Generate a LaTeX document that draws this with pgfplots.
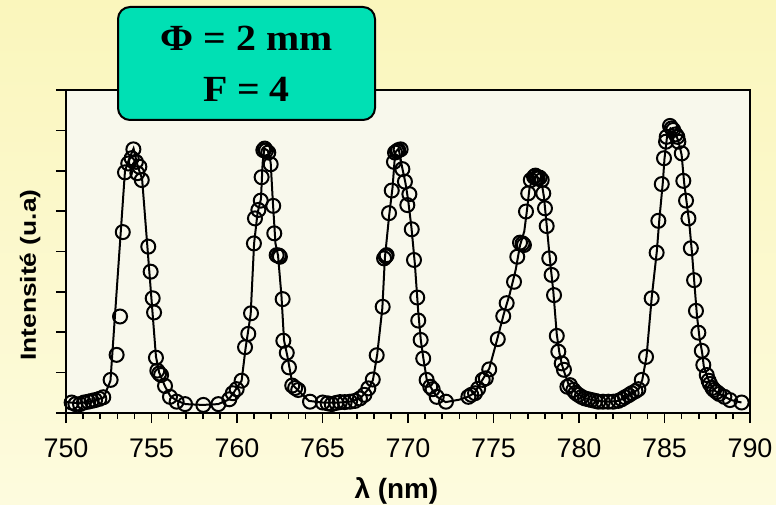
\documentclass[border=0pt]{standalone}
\usepackage{pgfplots}
\pgfplotsset{compat=1.18}
\usepackage{graphicx}
\usepackage{fontspec}
\setmainfont{Liberation Sans}
\newfontfamily\serifbf{Liberation Serif}
\definecolor{bgtop}{RGB}{250,246,188}
\definecolor{bgbot}{RGB}{253,251,222}
\definecolor{plotbg}{RGB}{248,248,236}
\definecolor{boxfill}{RGB}{0,224,180}

\pgfplotstableread{
x y
750.0 0.27
750.8 0.24
751.5 0.30
752.2 0.38
752.6 0.80
753.45 6.00
753.7 6.30
753.95 6.55
754.2 6.10
754.45 5.80
755.26 1.40
755.45 1.00
755.8 0.65
756.1 0.42
756.5 0.30
757.0 0.22
758.0 0.20
758.9 0.22
759.5 0.33
759.8 0.50
760.27 0.80
760.5 1.60
760.8 2.45
761.0 4.20
761.2 4.95
761.4 5.30
761.5 6.20
761.6 6.55
761.8 6.50
761.97 6.20
762.1 5.20
762.25 4.20
762.4 3.90
762.6 2.90
762.75 1.80
762.95 1.40
763.1 1.05
763.25 0.70
763.6 0.55
764.2 0.30
765.0 0.26
766.0 0.26
766.6 0.28
767.2 0.36
767.7 0.60
767.95 0.82
768.2 1.45
768.5 2.60
768.65 3.85
768.9 4.90
769.1 5.60
769.25 6.45
769.45 6.55
769.65 6.10
769.85 5.70
770.0 5.30
770.2 4.60
770.4 3.70
770.6 2.50
770.75 1.80
770.9 1.35
771.1 0.82
771.45 0.55
771.7 0.40
772.2 0.27
772.6 0.30
773.0 0.33
773.5 0.40
773.9 0.50
774.35 0.82
774.75 1.10
775.2 1.80
775.6 2.45
775.95 2.95
776.3 3.55
776.55 4.15
776.8 4.50
776.95 5.00
777.1 5.55
777.3 5.85
777.55 5.85
777.8 5.75
777.95 5.35
778.1 4.70
778.3 3.80
778.5 3.00
778.7 1.95
778.85 1.50
779.0 1.20
779.15 1.00
779.4 0.70
779.7 0.55
780.0 0.45
780.4 0.36
781.0 0.30
781.7 0.28
782.3 0.30
782.7 0.38
783.1 0.48
783.5 0.60
783.7 0.82
783.95 1.40
784.25 2.85
784.55 4.00
784.7 4.80
784.9 5.70
785.0 6.30
785.15 6.85
785.35 7.05
785.55 7.00
785.8 6.75
786.0 6.40
786.15 5.70
786.3 5.20
786.45 4.70
786.6 4.00
786.75 3.20
786.9 2.40
787.05 1.85
787.2 1.50
787.3 1.15
787.5 0.90
787.7 0.70
787.95 0.55
788.3 0.45
788.9 0.32
789.5 0.26
}\fitdata

\pgfplotstableread{
x y
750.33 0.26
750.55 0.22
750.82 0.22
751.05 0.26
751.30 0.28
751.50 0.30
751.70 0.32
751.95 0.35
752.18 0.39
752.61 0.82
752.96 1.44
753.16 2.39
753.32 4.48
753.45 5.96
753.64 6.18
753.84 6.31
753.94 6.53
754.09 6.22
754.17 5.94
754.29 6.10
754.43 5.77
754.81 4.12
754.95 3.50
755.07 2.84
755.15 2.49
755.26 1.37
755.34 1.05
755.45 0.98
755.56 0.94
755.79 0.67
756.08 0.40
756.47 0.28
756.96 0.22
758.03 0.20
758.91 0.22
759.55 0.34
759.75 0.49
759.98 0.59
760.27 0.80
760.47 1.63
760.66 1.96
760.82 2.47
760.99 4.20
761.05 4.82
761.25 5.03
761.39 5.26
761.44 5.84
761.54 6.51
761.62 6.55
761.70 6.50
761.83 6.45
761.97 6.16
762.12 5.13
762.18 4.45
762.32 3.91
762.45 3.90
762.51 3.87
762.67 2.82
762.71 1.79
762.91 1.49
763.04 1.13
763.23 0.68
763.40 0.62
763.58 0.57
764.27 0.28
765.01 0.26
765.30 0.24
765.54 0.22
765.80 0.25
766.02 0.27
766.30 0.27
766.61 0.28
766.90 0.30
767.19 0.36
767.45 0.45
767.68 0.61
767.94 0.83
768.17 1.43
768.52 2.63
768.60 3.83
768.70 3.88
768.75 3.91
768.89 4.95
769.05 5.51
769.18 6.22
769.24 6.45
769.35 6.48
769.43 6.51
769.57 6.53
769.67 6.04
769.82 5.73
769.96 5.15
770.08 5.42
770.22 4.55
770.35 3.79
770.54 2.86
770.60 2.29
770.74 1.81
770.89 1.35
771.09 0.82
771.30 0.65
771.44 0.59
771.68 0.40
772.22 0.28
773.53 0.40
773.70 0.45
773.92 0.49
774.10 0.60
774.37 0.82
774.55 0.86
774.75 1.08
775.25 1.83
775.57 2.40
775.77 2.72
776.20 3.25
776.39 3.87
776.55 4.22
776.70 4.20
776.78 4.16
776.90 4.99
777.03 5.44
777.18 5.77
777.37 5.85
777.45 5.88
777.50 5.82
777.58 5.81
777.70 5.83
777.82 5.77
777.91 5.44
778.01 5.07
778.11 4.63
778.26 3.83
778.40 3.42
778.54 2.92
778.70 1.91
778.79 1.52
778.99 1.23
779.12 1.07
779.32 0.65
779.47 0.69
779.67 0.57
779.80 0.50
779.96 0.45
780.15 0.40
780.35 0.36
780.55 0.34
780.74 0.32
780.95 0.30
781.13 0.28
781.40 0.28
781.71 0.28
782.00 0.28
782.30 0.30
782.50 0.34
782.69 0.39
782.90 0.44
783.08 0.49
783.30 0.54
783.47 0.59
783.67 0.82
783.92 1.39
784.25 2.84
784.54 3.97
784.64 4.76
784.84 5.67
784.97 6.31
785.09 6.72
785.13 6.84
785.32 7.11
785.42 7.05
785.51 7.01
785.65 6.90
785.75 6.84
785.81 6.72
786.01 6.43
786.10 5.75
786.26 5.26
786.40 4.82
786.54 4.08
786.73 3.29
786.84 2.53
786.98 1.99
787.18 1.54
787.27 1.19
787.47 0.94
787.58 0.80
787.66 0.72
787.80 0.62
787.90 0.57
788.05 0.52
788.20 0.47
788.50 0.40
788.83 0.32
789.51 0.26
}\measdata

\begin{document}
\begin{tikzpicture}
\useasboundingbox (0,0) rectangle (776bp,505bp);
\shade[top color=bgtop, bottom color=bgbot] (0,0) rectangle (776bp,505bp);
\begin{axis}[
  at={(66bp,92bp)}, anchor=south west,
  scale only axis, width=684bp, height=323bp,
  xmin=750, xmax=790, ymin=0, ymax=8,
  xtick={750,755,...,790}, minor x tick num=4,
  ytick={0,1,...,8}, yticklabels={},
  tick pos=left, tick align=outside,
  major tick length=10bp, minor tick length=6bp,
  tick style={black, line width=1.6bp},
  axis line style={black, line width=2bp},
  axis background/.style={fill=plotbg},
  /pgf/number format/assume math mode=true,
  /pgf/number format/set thousands separator={},
  tick label style={font=\fontsize{27}{30}\selectfont},
  xticklabel style={yshift=-12bp},
  xlabel={λ (nm)},
  xlabel style={at={(axis description cs:0.483,-0.24)}, anchor=center, font=\bfseries\fontsize{28}{32}\selectfont},
  ylabel={\scalebox{1.2}[1]{Intensité (u.a)}},
  ylabel style={at={(axis description cs:-0.0526,0.427)}, anchor=center, font=\bfseries\fontsize{22}{26}\selectfont},
]
\addplot[black, line width=2bp, no markers] table[x=x,y=y] {\fitdata};
\addplot[only marks, mark=o, mark size=7bp, mark options={black, line width=2bp}] table[x=x,y=y] {\measdata};
\end{axis}
\node[draw=black, line width=2bp, fill=boxfill, rounded corners=12bp,
      minimum width=257bp, minimum height=113bp, align=center, inner sep=0pt,
      font=\serifbf\bfseries\fontsize{37}{51}\selectfont]
  at (246.5bp,441.5bp) {\raisebox{-2bp}{\scalebox{1.08}[1]{Φ = 2 mm}}\\\raisebox{-2bp}{\scalebox{1.08}[1]{F = 4}}};
\end{tikzpicture}
\end{document}
